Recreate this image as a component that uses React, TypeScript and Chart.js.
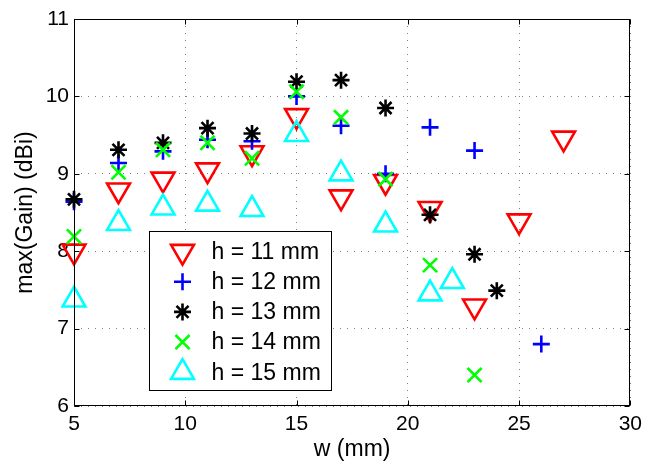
import React, { useEffect, useRef } from 'react';
import { Chart, registerables } from 'chart.js';
import { drawPoint } from 'chart.js/helpers';

Chart.register(...registerables);

// Peak gain versus patch width w, one series per substrate height h
const wH11 = [5, 7, 9, 11, 13, 15, 17, 19, 21, 23, 25, 27];
const gainH11 = [8.0, 8.79, 8.93, 9.05, 9.27, 9.75, 8.7, 8.9, 8.55, 7.29, 8.39, 9.46];

const wH12 = [5, 7, 9, 11, 13, 15, 17, 19, 21, 23, 26];
const gainH12 = [8.64, 9.14, 9.29, 9.44, 9.42, 10.0, 9.62, 9.0, 9.6, 9.3, 6.8];

const wH13 = [5, 7, 9, 11, 13, 15, 17, 19, 21, 23, 24];
const gainH13 = [8.67, 9.31, 9.4, 9.59, 9.52, 10.19, 10.21, 9.85, 8.47, 7.96, 7.49];

const wH14 = [5, 7, 9, 11, 13, 15, 17, 19, 21, 23];
const gainH14 = [8.19, 9.02, 9.31, 9.4, 9.2, 10.06, 9.73, 8.93, 7.82, 6.4];

const wH15 = [5, 7, 9, 11, 13, 15, 17, 19, 21, 22];
const gainH15 = [7.37, 8.36, 8.56, 8.61, 8.54, 9.51, 9.0, 8.34, 7.45, 7.61];

const seriesLabels = ['h = 11 mm', 'h = 12 mm', 'h = 13 mm', 'h = 14 mm', 'h = 15 mm'];

const xTicks = [5, 10, 15, 20, 25, 30];
const yTicks = [6, 7, 8, 9, 10, 11];

const FONT = '"Liberation Sans", Arial, Helvetica, sans-serif';
const TICK_SIZE = 21;
const LABEL_SIZE = 23;

type Marker = { style: string; rotation: number; radius: number; color: string };

const markers: Marker[] = [
  { style: 'triangle', rotation: 180, radius: 13.2, color: '#ff0000' },
  { style: 'cross', rotation: 0, radius: 8.5, color: '#0000ff' },
  { style: 'star', rotation: 0, radius: 8.5, color: '#000000' },
  { style: 'crossRot', rotation: 0, radius: 10, color: '#00ff00' },
  { style: 'triangle', rotation: 0, radius: 13.2, color: '#00ffff' },
];

const MARK_WIDTH = 2.6;

const toPoints = (xs: number[], ys: number[]) => xs.map((x, i) => ({ x, y: ys[i] }));

// Closed axes box with inward tick marks on all four sides
const boxPlugin = {
  id: 'boxAxes',
  afterDraw(chart: any) {
    const { ctx, chartArea: a, scales } = chart;
    ctx.save();
    ctx.strokeStyle = '#000';
    ctx.lineWidth = 1;
    ctx.setLineDash([]);
    const L = Math.round(a.left) + 0.5;
    const R = Math.round(a.right) - 0.5;
    const T = Math.round(a.top) + 0.5;
    const B = Math.round(a.bottom) - 0.5;
    ctx.strokeRect(L, T, R - L, B - T);
    const len = 5;
    ctx.beginPath();
    xTicks.forEach((v) => {
      const px = Math.round(scales.x.getPixelForValue(v)) + 0.5;
      ctx.moveTo(px, B);
      ctx.lineTo(px, B - len);
      ctx.moveTo(px, T);
      ctx.lineTo(px, T + len);
    });
    yTicks.forEach((v) => {
      const py = Math.round(scales.y.getPixelForValue(v)) + 0.5;
      ctx.moveTo(L, py);
      ctx.lineTo(L + len, py);
      ctx.moveTo(R, py);
      ctx.lineTo(R - len, py);
    });
    ctx.stroke();
    ctx.restore();
  },
};

// Boxed legend placed inside the plot area
const legendPlugin = {
  id: 'boxLegend',
  afterDatasetsDraw(chart: any) {
    const { ctx, chartArea: a } = chart;
    const left = Math.round(a.left + 75) + 0.5;
    const top = Math.round(a.top + 212) + 0.5;
    const w = 182;
    const h = 159;
    ctx.save();
    ctx.fillStyle = '#fff';
    ctx.fillRect(left, top, w, h);
    ctx.strokeStyle = '#000';
    ctx.lineWidth = 1;
    ctx.setLineDash([]);
    ctx.strokeRect(left, top, w, h);
    const rowStart = top + 20;
    const rowStep = 30.2;
    seriesLabels.forEach((label, i) => {
      const m = markers[i];
      const cy = rowStart + i * rowStep;
      ctx.strokeStyle = m.color;
      ctx.fillStyle = 'rgba(0,0,0,0)';
      ctx.lineWidth = MARK_WIDTH;
      drawPoint(ctx, { pointStyle: m.style as any, rotation: m.rotation, radius: m.radius, borderWidth: MARK_WIDTH }, left + 33, cy);
      ctx.fillStyle = '#000';
      ctx.font = `${LABEL_SIZE}px ${FONT}`;
      ctx.textAlign = 'left';
      ctx.textBaseline = 'middle';
      ctx.fillText(label, left + 62, cy + 1);
    });
    ctx.restore();
  },
};

export default function App() {
  const canvasRef = useRef<HTMLCanvasElement | null>(null);

  useEffect(() => {
    const canvas = canvasRef.current;
    if (!canvas) return;
    const series = [
      toPoints(wH11, gainH11),
      toPoints(wH12, gainH12),
      toPoints(wH13, gainH13),
      toPoints(wH14, gainH14),
      toPoints(wH15, gainH15),
    ];
    const datasets = series.map((data, i) => ({
      label: seriesLabels[i],
      data,
      pointStyle: markers[i].style,
      rotation: markers[i].rotation,
      pointRadius: markers[i].radius,
      pointHoverRadius: markers[i].radius,
      borderColor: markers[i].color,
      backgroundColor: 'rgba(0,0,0,0)',
      pointBorderWidth: MARK_WIDTH,
      borderWidth: MARK_WIDTH,
      showLine: false,
      clip: false,
      // later heights are drawn on top of earlier ones
      order: series.length - 1 - i,
    }));

    const chart = new Chart(canvas, {
      type: 'scatter',
      data: { datasets: datasets as any },
      plugins: [boxPlugin, legendPlugin],
      options: {
        animation: false,
        responsive: false,
        events: [],
        layout: { padding: { left: 0, top: 19, right: 15, bottom: 0 } },
        plugins: {
          legend: { display: false },
          tooltip: { enabled: false },
        },
        scales: {
          x: {
            type: 'linear',
            min: 5,
            max: 30,
            afterFit: (s: any) => {
              s.height = 58;
            },
            afterBuildTicks: (s: any) => {
              s.ticks = xTicks.map((v) => ({ value: v }));
            },
            ticks: {
              padding: 6,
              color: '#000',
              font: { family: FONT, size: TICK_SIZE },
              maxRotation: 0,
            },
            grid: {
              drawTicks: false,
              color: 'rgba(0,0,0,0.5)',
              lineWidth: 1,
            },
            border: { display: false, dash: [1, 6] },
            title: {
              display: true,
              text: 'w (mm)',
              color: '#000',
              font: { family: FONT, size: LABEL_SIZE },
              padding: { top: 0, bottom: 1 },
            },
          },
          y: {
            type: 'linear',
            min: 6,
            max: 11,
            afterFit: (s: any) => {
              s.width = 74;
            },
            afterBuildTicks: (s: any) => {
              s.ticks = yTicks.map((v) => ({ value: v }));
            },
            ticks: {
              padding: 5,
              color: '#000',
              font: { family: FONT, size: TICK_SIZE },
            },
            grid: {
              drawTicks: false,
              color: 'rgba(0,0,0,0.5)',
              lineWidth: 1,
            },
            border: { display: false, dash: [1, 6] },
            title: {
              display: true,
              text: 'max(Gain) (dBi)',
              color: '#000',
              font: { family: FONT, size: LABEL_SIZE },
              padding: { top: 12, bottom: 0 },
            },
          },
        },
      },
    });
    return () => chart.destroy();
  }, []);

  return (
    <div style={{ position: 'absolute', left: 0, top: 0, width: 648, height: 464, background: '#fff' }}>
      <canvas ref={canvasRef} width={648} height={464} style={{ display: 'block' }} />
    </div>
  );
}
